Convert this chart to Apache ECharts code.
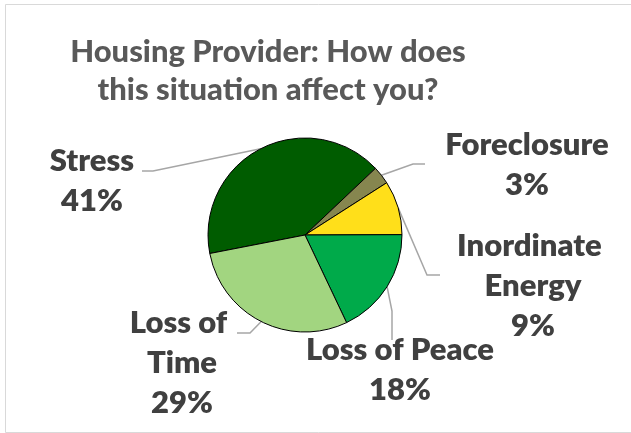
<!DOCTYPE html>
<html>
<head>
<meta charset="utf-8">
<script src="https://cdn.jsdelivr.net/npm/echarts@6/dist/echarts.min.js"></script>
<style>
  html, body { margin: 0; padding: 0; background: #fff; }
  #chart { width: 631px; height: 433px; }
</style>
</head>
<body>
<div id="chart"></div>
<script>
// Survey answers: share of housing providers naming each effect
const categories = ['Stress', 'Foreclosure', 'Inordinate Energy', 'Loss of Peace', 'Loss of Time'];
const shares = [41, 3, 9, 18, 29];
const sliceColors = ['#005C00', '#86864F', '#FFDF1A', '#00AA4A', '#A2D580'];

const titleText = 'Housing Provider: How does\nthis situation affect you?';

// Where each label block sits (centre) and the elbow/end of its leader line
const labelPlacement = {
  'Stress':            { x: 92,  y: 181, bend: [153, 171], end: [142, 171] },
  'Foreclosure':       { x: 527, y: 165, bend: [413, 164], end: [425, 164] },
  'Inordinate Energy': { x: 533, y: 286, bend: [427, 275], end: [440, 275] },
  'Loss of Peace':     { x: 400, y: 370, bend: [392, 311], end: [392, 340] },
  'Loss of Time':      { x: 182, y: 363, bend: [250, 333], end: [237, 333] }
};
// Wrap widths for the labels that run over two lines of name
const labelWidths = { 'Inordinate Energy': 175, 'Loss of Time': 115 };

const pieCenter = [305, 235];
const pieRadius = 97;
const startAngle = 191;

const chart = echarts.init(document.getElementById('chart'), null, { renderer: 'canvas' });

const data = categories.map((name, i) => {
  const item = { name: name, value: shares[i], itemStyle: { color: sliceColors[i] } };
  item.label = labelWidths[name]
    ? { width: labelWidths[name], overflow: 'break' }
    : { width: 300, overflow: 'none' };
  return item;
});

// Mid-angle point on the rim, used if the library gives no guide points
function rimPoint(idx) {
  const total = shares.reduce((a, b) => a + b, 0);
  let before = 0;
  for (let i = 0; i < idx; i++) before += shares[i];
  const mid = startAngle - (before + shares[idx] / 2) / total * 360;
  const r = mid * Math.PI / 180;
  return [pieCenter[0] + pieRadius * Math.cos(r), pieCenter[1] - pieRadius * Math.sin(r)];
}

chart.setOption({
  animation: false,
  backgroundColor: '#ffffff',
  title: {
    text: titleText,
    left: 263,
    top: 28,
    textAlign: 'center',
    textStyle: {
      fontFamily: 'Lato',
      fontWeight: 900,
      fontSize: 31,
      lineHeight: 38,
      color: '#595959'
    }
  },
  graphic: [{
    type: 'rect',
    silent: true,
    shape: { x: 5.5, y: 4.5, width: 630, height: 428 },
    style: { fill: 'none', stroke: '#D9D9D9', lineWidth: 1 }
  }],
  series: [{
    type: 'pie',
    center: pieCenter,
    radius: pieRadius,
    startAngle: startAngle,
    clockwise: true,
    data: data,
    itemStyle: { borderColor: '#000000', borderWidth: 1 },
    label: {
      show: true,
      position: 'outside',
      overflow: 'none',
      formatter: p => p.name + '\n' + Math.round(p.percent) + '%',
      fontFamily: 'Lato',
      fontWeight: 800,
      fontSize: 31,
      lineHeight: 40,
      color: '#404040',
      align: 'center'
    },
    labelLine: {
      show: true,
      lineStyle: { color: '#A6A6A6', width: 1.5 }
    },
    labelLayout: function (params) {
      const name = categories[params.dataIndex];
      const spot = labelPlacement[name];
      const p0 = (params.labelLinePoints && params.labelLinePoints[0]) || rimPoint(params.dataIndex);
      return {
        x: spot.x,
        y: spot.y,
        align: 'center',
        verticalAlign: 'middle',
        labelLinePoints: [p0, spot.bend, spot.end]
      };
    }
  }]
});
</script>
</body>
</html>
